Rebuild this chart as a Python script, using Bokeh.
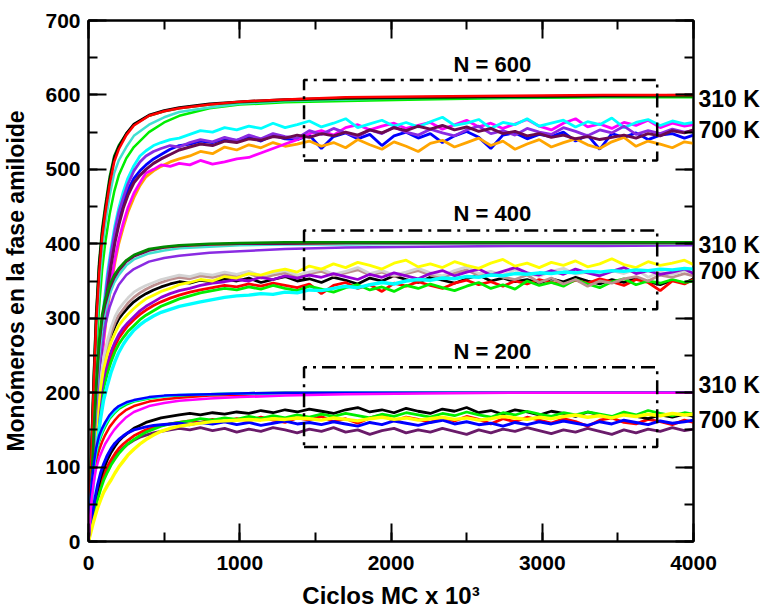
from bokeh.plotting import figure
from bokeh.models import LinearAxis, SingleIntervalTicker, FixedTicker, Label, Range1d, CustomJSTickFormatter
from bokeh.embed import file_html
from bokeh.resources import INLINE

# ---------------- data ----------------
X_310 = [0, 10, 20, 35, 50, 70, 90, 110, 140, 170, 200, 250, 300, 400, 500, 600, 800, 1000, 1300, 1700, 2200, 2800, 3400, 4000]

# N = 600, 310 K
N600_310_green = [0, 40, 95, 175, 245, 315, 365, 400, 440, 470, 492, 515, 530, 550, 563, 572, 582, 587, 590, 592, 594, 596, 597, 597]
N600_310_cyan = [0, 50, 110, 195, 270, 340, 390, 425, 465, 495, 512, 530, 545, 560, 570, 577, 583, 588, 592, 594, 596, 597, 598, 599]
N600_310_dkgreen = [0, 65, 135, 225, 305, 375, 420, 450, 490, 518, 532, 548, 560, 572, 578, 582, 587, 590, 593, 595, 596, 597, 598, 598]
N600_310_black = [0, 60, 130, 220, 300, 370, 415, 445, 485, 515, 530, 548, 561, 573, 579, 583, 588, 591, 594, 596, 597, 598, 599, 600]
N600_310_red = [0, 55, 120, 210, 290, 360, 408, 440, 480, 510, 527, 546, 559, 572, 578, 582, 587, 591, 594, 597, 598, 599, 600, 600]

# N = 400, 310 K
N400_310_purple = [0, 25, 60, 120, 175, 230, 265, 290, 315, 332, 345, 358, 366, 376, 381, 384, 388, 390, 393, 395, 396, 397, 397, 398]
N400_310_turq = [0, 28, 68, 130, 190, 248, 285, 308, 332, 348, 358, 371, 379, 387, 391, 394, 396, 398, 399, 399, 400, 400, 400, 400]
N400_310_orange = [0, 32, 78, 145, 205, 265, 300, 322, 343, 356, 365, 377, 384, 392, 395, 397, 399, 400, 400, 401, 401, 401, 401, 401]
N400_310_maroon = [0, 30, 75, 140, 200, 262, 298, 318, 340, 354, 364, 376, 383, 391, 395, 397, 399, 400, 400, 401, 401, 401, 401, 401]
N400_310_dkgreen = [0, 35, 80, 150, 210, 270, 305, 325, 345, 358, 367, 378, 385, 393, 396, 398, 400, 401, 402, 402, 402, 402, 402, 402]

# N = 200, 310 K
N200_310_red = [0, 35, 60, 88, 108, 123, 134, 143, 154, 162, 169, 177, 182, 188, 191, 193, 196, 197, 199, 199, 200, 200, 200, 200]
N200_310_green = [0, 40, 68, 97, 117, 134, 145, 154, 165, 172, 178, 184, 188, 192, 195, 196, 198, 199, 200, 200, 200, 200, 200, 200]
N200_310_cyan = [0, 42, 72, 100, 120, 137, 148, 157, 167, 174, 180, 186, 189, 193, 195, 197, 198, 199, 199, 200, 200, 200, 200, 200]
N200_310_blue = [0, 45, 75, 105, 125, 142, 152, 160, 170, 177, 182, 187, 190, 194, 196, 197, 198, 199, 200, 200, 200, 200, 200, 200]
N200_310_magenta = [0, 30, 55, 80, 98, 112, 122, 131, 141, 150, 157, 167, 174, 182, 186, 189, 192, 194, 196, 198, 199, 200, 200, 200]

X_700 = [0, 15, 30, 45, 60, 80, 100, 125, 150, 175,
         200, 230, 260, 300, 340, 380, 430, 480, 540, 600,
         670, 740, 820, 900, 980, 1060, 1140, 1220, 1300, 1380,
         1460, 1540, 1620, 1700, 1780, 1860, 1940, 2020, 2100, 2180,
         2260, 2340, 2420, 2500, 2580, 2660, 2740, 2820, 2900, 2980,
         3060, 3140, 3220, 3300, 3380, 3460, 3540, 3620, 3700, 3780,
         3860, 3940, 4000]

# N = 600, 700 K
N600_700_blue = [0, 52, 110, 160, 200, 250, 298, 345, 380, 410,
                 435, 455, 472, 488, 498, 506, 514, 520, 527, 532,
                 534, 538, 536, 541, 539, 544, 538, 546, 541, 540,
                 546, 528, 544, 549, 541, 547, 532, 545, 550, 542,
                 548, 536, 545, 551, 543, 528, 546, 549, 541, 547,
                 544, 550, 538, 546, 527, 548, 543, 549, 540, 546,
                 548, 542, 546]
N600_700_orange = [0, 40, 90, 135, 175, 222, 268, 312, 345, 375,
                   400, 422, 442, 462, 478, 490, 498, 504, 510, 514,
                   518, 524, 521, 530, 526, 533, 529, 536, 531, 534,
                   538, 531, 536, 529, 540, 533, 527, 537, 531, 524,
                   535, 539, 530, 536, 542, 532, 538, 527, 534, 540,
                   530, 536, 541, 533, 528, 537, 543, 531, 538, 534,
                   529, 537, 535]
N600_700_magenta = [0, 45, 95, 140, 180, 228, 272, 318, 350, 380,
                    405, 428, 448, 468, 482, 495, 500, 506, 504, 508,
                    506, 512, 507, 510, 514, 516, 522, 528, 534, 540,
                    548, 552, 546, 556, 560, 553, 558, 562, 555, 559,
                    563, 554, 560, 566, 557, 562, 555, 561, 567, 558,
                    553, 562, 568, 557, 561, 555, 563, 559, 566, 556,
                    562, 558, 560]
N600_700_cyan = [0, 60, 125, 175, 215, 265, 315, 360, 395, 425,
                 448, 470, 488, 505, 518, 525, 532, 536, 540, 542,
                 547, 552, 550, 556, 553, 558, 555, 562, 556, 560,
                 565, 557, 562, 568, 556, 561, 566, 558, 563, 557,
                 564, 570, 559, 562, 567, 555, 563, 560, 568, 558,
                 562, 566, 557, 564, 560, 569, 556, 563, 567, 559,
                 565, 561, 563]
N600_700_purple = [0, 55, 115, 165, 205, 255, 305, 352, 388, 418,
                   442, 462, 480, 498, 510, 518, 524, 528, 532, 530,
                   536, 540, 537, 543, 539, 546, 541, 548, 544, 542,
                   552, 547, 555, 549, 544, 553, 548, 557, 550, 546,
                   554, 549, 545, 553, 558, 548, 552, 546, 555, 550,
                   547, 556, 551, 545, 553, 549, 558, 547, 552, 548,
                   554, 550, 552]
N600_700_maroon = [0, 50, 105, 155, 195, 245, 292, 338, 372, 402,
                   425, 448, 465, 482, 492, 500, 508, 514, 520, 526,
                   530, 534, 532, 538, 536, 541, 539, 544, 542, 546,
                   543, 548, 545, 550, 546, 553, 549, 556, 552, 558,
                   554, 559, 553, 557, 551, 555, 548, 551, 545, 548,
                   543, 546, 541, 544, 540, 543, 546, 542, 548, 545,
                   552, 549, 553]

# N = 400, 700 K
N400_700_black = [0, 52, 105, 148, 182, 215, 240, 260, 276, 289,
                  299, 307, 314, 322, 328, 333, 338, 342, 346, 349,
                  347, 351, 349, 353, 350, 354, 348, 352, 356, 350,
                  353, 348, 355, 351, 346, 354, 350, 357, 352, 348,
                  355, 351, 347, 353, 358, 350, 354, 349, 352, 347,
                  353, 349, 355, 350, 346, 352, 348, 354, 349, 345,
                  351, 347, 353]
N400_700_red = [0, 42, 88, 126, 158, 190, 215, 235, 250, 263,
                273, 282, 290, 298, 305, 311, 317, 322, 327, 331,
                335, 338, 341, 344, 342, 346, 343, 347, 344, 341,
                346, 333, 344, 348, 340, 345, 336, 347, 343, 349,
                344, 340, 347, 351, 345, 349, 343, 350, 346, 352,
                348, 345, 351, 347, 353, 349, 344, 352, 348, 337,
                350, 346, 352]
N400_700_green = [0, 38, 80, 118, 150, 182, 206, 226, 242, 255,
                  265, 274, 282, 290, 298, 304, 310, 316, 321, 326,
                  330, 334, 337, 340, 338, 342, 339, 344, 340, 337,
                  343, 339, 335, 341, 345, 338, 342, 336, 344, 340,
                  346, 341, 337, 343, 348, 340, 345, 339, 350, 344,
                  348, 343, 352, 346, 341, 349, 353, 345, 350, 347,
                  352, 348, 350]
N400_700_rosy = [0, 50, 102, 145, 180, 214, 240, 262, 280, 294,
                 304, 312, 320, 328, 334, 339, 344, 348, 352, 355,
                 353, 357, 355, 359, 356, 360, 354, 358, 361, 356,
                 360, 363, 357, 361, 365, 358, 362, 356, 360, 364,
                 358, 354, 361, 365, 357, 360, 355, 352, 358, 348,
                 354, 346, 352, 343, 350, 347, 353, 356, 350, 358,
                 355, 360, 357]
N400_700_silver = [0, 55, 110, 150, 185, 220, 248, 270, 288, 302,
                   312, 320, 327, 335, 340, 344, 348, 352, 355, 358,
                   356, 360, 358, 362, 359, 363, 357, 361, 364, 358,
                   362, 366, 359, 363, 368, 360, 364, 358, 362, 367,
                   361, 357, 364, 369, 360, 363, 358, 365, 361, 356,
                   363, 367, 359, 362, 357, 364, 360, 366, 355, 362,
                   359, 364, 361]
N400_700_purple = [0, 45, 92, 130, 162, 195, 220, 240, 256, 268,
                   278, 287, 294, 302, 310, 316, 322, 328, 333, 337,
                   340, 344, 347, 349, 352, 350, 355, 352, 357, 354,
                   358, 355, 360, 356, 352, 359, 355, 361, 357, 353,
                   360, 364, 357, 362, 366, 358, 363, 368, 361, 358,
                   364, 359, 366, 361, 357, 363, 368, 360, 364, 359,
                   362, 366, 360]
N400_700_yellow = [0, 48, 98, 138, 172, 206, 232, 252, 268, 280,
                   290, 298, 305, 313, 320, 326, 331, 336, 340, 345,
                   348, 352, 350, 356, 354, 360, 358, 363, 366, 362,
                   370, 366, 373, 368, 375, 371, 366, 374, 378, 369,
                   373, 368, 376, 371, 367, 374, 379, 370, 374, 368,
                   375, 371, 377, 369, 373, 380, 372, 368, 376, 371,
                   374, 378, 372]
N400_700_cyan = [0, 35, 72, 105, 135, 165, 190, 210, 228, 242,
                 254, 265, 274, 284, 291, 297, 303, 308, 312, 316,
                 319, 322, 325, 328, 330, 331, 333, 332, 335, 334,
                 338, 337, 340, 343, 341, 345, 348, 346, 350, 352,
                 351, 354, 353, 356, 355, 358, 357, 360, 359, 361,
                 360, 362, 361, 363, 362, 364, 363, 365, 364, 366,
                 365, 367, 366]

# N = 200, 700 K
N200_700_purple = [0, 17, 33, 47, 60, 74, 86, 97, 106, 114,
                   120, 126, 131, 136, 140, 143, 146, 148, 150, 152,
                   150, 153, 149, 152, 147, 151, 148, 153, 150, 146,
                   151, 148, 153, 147, 150, 144, 149, 152, 146, 150,
                   147, 152, 148, 144, 150, 146, 151, 148, 153, 149,
                   145, 150, 147, 152, 148, 144, 150, 146, 151, 148,
                   153, 149, 151]
N200_700_red = [0, 18, 35, 50, 64, 78, 90, 101, 110, 118,
                125, 131, 136, 142, 146, 150, 153, 156, 158, 160,
                162, 160, 164, 161, 165, 162, 167, 163, 160, 166,
                163, 168, 161, 165, 159, 166, 170, 162, 167, 164,
                160, 166, 162, 168, 164, 158, 165, 161, 167, 163,
                159, 165, 161, 155, 163, 166, 160, 158, 164, 161,
                157, 163, 160]
N200_700_black = [0, 20, 38, 55, 70, 86, 98, 110, 120, 128,
                  135, 141, 146, 152, 156, 160, 163, 166, 168, 170,
                  172, 170, 173, 171, 174, 172, 176, 173, 177, 174,
                  178, 175, 172, 177, 180, 174, 177, 173, 179, 175,
                  172, 178, 175, 180, 173, 176, 171, 177, 174, 170,
                  175, 172, 168, 174, 170, 166, 172, 168, 165, 170,
                  167, 171, 168]
N200_700_green = [0, 16, 30, 44, 56, 70, 82, 93, 103, 111,
                  118, 125, 131, 137, 142, 147, 151, 155, 158, 160,
                  162, 165, 163, 166, 164, 168, 165, 169, 166, 170,
                  167, 171, 168, 172, 169, 166, 171, 168, 173, 170,
                  167, 172, 169, 174, 170, 167, 173, 170, 175, 171,
                  168, 173, 170, 174, 171, 168, 174, 170, 176, 172,
                  169, 173, 171]
N200_700_blue = [0, 22, 42, 60, 76, 92, 104, 116, 125, 132,
                 137, 142, 146, 150, 152, 154, 156, 157, 158, 159,
                 157, 160, 158, 161, 157, 160, 156, 159, 162, 158,
                 160, 157, 161, 158, 155, 160, 157, 162, 159, 156,
                 160, 163, 158, 161, 157, 159, 155, 160, 157, 161,
                 158, 162, 159, 156, 161, 158, 163, 160, 157, 162,
                 159, 161, 163]
N200_700_yellow = [0, 12, 24, 35, 45, 56, 66, 75, 83, 92,
                   100, 108, 116, 124, 131, 137, 143, 148, 152, 155,
                   157, 159, 161, 162, 163, 164, 163, 165, 164, 166,
                   165, 163, 166, 164, 162, 165, 167, 164, 166, 163,
                   165, 167, 164, 166, 163, 165, 168, 166, 164, 167,
                   165, 168, 170, 167, 169, 166, 170, 168, 171, 169,
                   172, 170, 171]

# annotation boxes (x range, and y range per N)
BOX_X = [1425, 3760]
BOX_Y = {"600": [512, 620], "400": [312, 418], "200": [127, 234]}
N_LABELS = ["N = 600", "N = 400", "N = 200"]
N_LABEL_Y = [641, 441, 255]
TEMP_LABELS = ["310 K", "700 K", "310 K", "700 K", "310 K", "700 K"]
TEMP_LABEL_Y = [594, 553, 398, 364, 210, 163]

# ---------------- figure ----------------
FONT = "Liberation Sans"
p = figure(width=764, height=612, x_range=Range1d(0, 4000), y_range=Range1d(0, 700),
           output_backend="svg", toolbar_location=None,
           min_border_left=88, min_border_right=71, min_border_top=20, min_border_bottom=71)
p.grid.visible = False
p.outline_line_color = "black"
p.outline_line_width = 2
p.background_fill_color = "white"
p.border_fill_color = "white"

EMPTY = CustomJSTickFormatter(code="return '';")


def style_axis(ax):
    ax.axis_line_width = 2
    ax.major_tick_line_width = 2
    ax.minor_tick_line_width = 2
    ax.major_tick_in = 18
    ax.major_tick_out = 0
    ax.minor_tick_in = 9
    ax.minor_tick_out = 0
    ax.major_label_text_font = FONT
    ax.major_label_text_font_style = "bold"
    ax.major_label_text_font_size = "21px"
    ax.major_label_text_color = "black"
    ax.axis_label_text_font = FONT
    ax.axis_label_text_font_style = "bold"
    ax.axis_label_text_color = "black"


p.xaxis[0].ticker = SingleIntervalTicker(interval=1000, num_minor_ticks=2)
p.yaxis[0].ticker = SingleIntervalTicker(interval=100, num_minor_ticks=2)
style_axis(p.xaxis[0])
style_axis(p.yaxis[0])
p.xaxis[0].axis_label = "Ciclos MC x 10³"
p.xaxis[0].axis_label_text_font_size = "24px"
p.xaxis[0].major_label_standoff = 14
p.xaxis[0].axis_label_standoff = 9
p.yaxis[0].axis_label = "Monómeros en la fase amiloide"
p.yaxis[0].axis_label_text_font_size = "23px"
p.yaxis[0].major_label_standoff = 8
p.yaxis[0].axis_label_standoff = 13

top = LinearAxis(ticker=SingleIntervalTicker(interval=1000, num_minor_ticks=2), formatter=EMPTY)
style_axis(top)
top.major_label_standoff = 0
p.add_layout(top, "above")
right = LinearAxis(ticker=SingleIntervalTicker(interval=100, num_minor_ticks=2), formatter=EMPTY)
style_axis(right)
right.major_label_standoff = 0
p.add_layout(right, "right")

# temperature labels on an extra right axis (no line, no ticks)
temp_axis = LinearAxis(ticker=FixedTicker(ticks=TEMP_LABEL_Y, minor_ticks=[]),
                       major_label_overrides={float(v): t for v, t in zip(TEMP_LABEL_Y, TEMP_LABELS)})
style_axis(temp_axis)
temp_axis.axis_line_color = None
temp_axis.major_tick_line_color = None
temp_axis.minor_tick_line_color = None
temp_axis.major_label_standoff = 5
temp_axis.major_label_text_font_size = "23px"
p.add_layout(temp_axis, "right")

# 700 K noisy runs
W7 = 2.8
for ys, c, w in [
    (N600_700_blue, "#0000ff", W7), (N600_700_orange, "#ffa500", W7),
    (N600_700_magenta, "#ff00ff", W7), (N600_700_cyan, "#00ffff", W7),
    (N600_700_purple, "#8a2be2", W7), (N600_700_maroon, "#6b0a4f", 3.0),
    (N400_700_black, "#000000", W7), (N400_700_red, "#ff0000", W7),
    (N400_700_green, "#00ee00", W7), (N400_700_rosy, "#bc8f8f", W7),
    (N400_700_silver, "#d3d3d3", W7), (N400_700_purple, "#9400d3", W7),
    (N400_700_yellow, "#ffff00", W7), (N400_700_cyan, "#00ffff", 3.4),
    (N200_700_purple, "#6a1b6a", W7), (N200_700_red, "#ff0000", W7),
    (N200_700_black, "#000000", W7), (N200_700_green, "#00ee00", W7),
    (N200_700_blue, "#0000ff", 3.0), (N200_700_yellow, "#ffff00", 3.4),
]:
    p.line(X_700, ys, line_color=c, line_width=w)

# 310 K smooth runs
W3 = 2.5
for ys, c in [
    (N600_310_green, "#00ee00"), (N600_310_cyan, "#40e0d0"), (N600_310_dkgreen, "#008b00"),
    (N600_310_black, "#000000"), (N600_310_red, "#ff0000"),
    (N400_310_purple, "#8a2be2"), (N400_310_turq, "#40e0d0"), (N400_310_orange, "#ffa500"),
    (N400_310_maroon, "#6b0a4f"), (N400_310_dkgreen, "#008b00"),
    (N200_310_red, "#ff0000"), (N200_310_green, "#00ee00"), (N200_310_cyan, "#00ffff"),
    (N200_310_blue, "#0000ff"), (N200_310_magenta, "#ff00ff"),
]:
    p.line(X_310, ys, line_color=c, line_width=W3)

# dash-dot boxes
for key in ["600", "400", "200"]:
    y0, y1 = BOX_Y[key]
    x0, x1 = BOX_X
    p.line([x0, x1, x1, x0, x0], [y0, y0, y1, y1, y0], line_color="black",
           line_width=2.5, line_dash="14 6 3 6")

for txt, yv in zip(N_LABELS, N_LABEL_Y):
    p.add_layout(Label(x=2670, y=yv, text=txt, text_align="center", text_baseline="middle",
                       text_font=FONT, text_font_style="bold", text_font_size="22px",
                       text_color="black"))

open("out.html", "w").write(file_html(p, INLINE))
